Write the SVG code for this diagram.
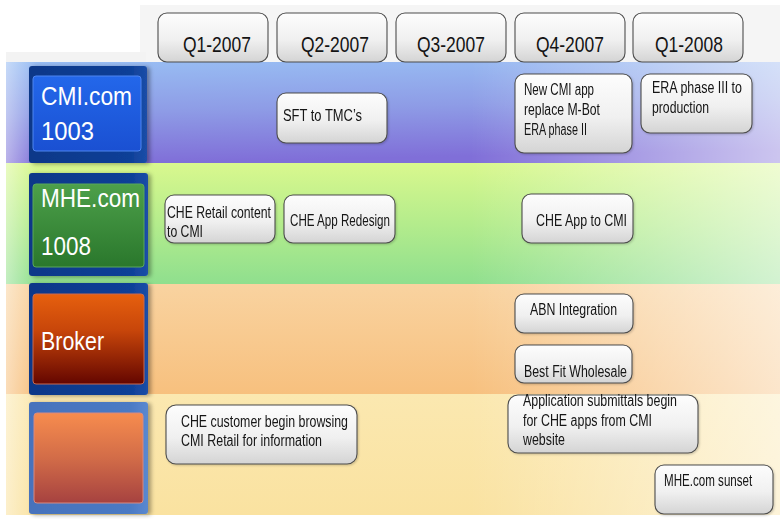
<svg xmlns="http://www.w3.org/2000/svg" width="780" height="519" viewBox="0 0 780 519">
  <defs>
    <style>
      .t { font-family: "Liberation Sans Narrow", "Liberation Sans", Arial, sans-serif; fill: #141414; }
      .item { font-size: 16px; }
      .hdr { font-size: 22px; }
      .lane-label { font-size: 26px; fill: #ffffff; }
      .box { fill: url(#boxFill); stroke: #4d4d4d; stroke-width: 1.1; }
      .outer { fill: url(#navy); filter: url(#shadow); }
    </style>
    <linearGradient id="boxFill" x1="0" y1="0" x2="0" y2="1">
      <stop offset="0" stop-color="#fdfdfd"/>
      <stop offset="0.55" stop-color="#f0f0f0"/>
      <stop offset="1" stop-color="#d4d4d4"/>
    </linearGradient>
    <linearGradient id="navy" x1="0" y1="0" x2="1" y2="0">
      <stop offset="0" stop-color="#0b3888"/>
      <stop offset="0.85" stop-color="#0e3f97"/>
      <stop offset="1" stop-color="#1b4ea8"/>
    </linearGradient>
    <linearGradient id="navyLight" x1="0" y1="0" x2="1" y2="0">
      <stop offset="0" stop-color="#4672bc"/>
      <stop offset="0.85" stop-color="#4b7ac4"/>
      <stop offset="1" stop-color="#5a88d0"/>
    </linearGradient>
    <filter id="shadow" x="-10%" y="-10%" width="125%" height="125%">
      <feDropShadow dx="3" dy="1" stdDeviation="2" flood-color="#000" flood-opacity="0.35"/>
    </filter>
    <filter id="soft" x="-10%" y="-10%" width="125%" height="130%">
      <feDropShadow dx="1" dy="1" stdDeviation="1" flood-color="#000" flood-opacity="0.2"/>
    </filter>

    <!-- lane backgrounds -->
    <linearGradient id="laneBlue" x1="0" y1="0" x2="0.15" y2="1">
      <stop offset="0" stop-color="#98bdf3"/>
      <stop offset="0.5" stop-color="#8e9ce6"/>
      <stop offset="1" stop-color="#806fd8"/>
    </linearGradient>
    <linearGradient id="laneGreen" x1="0" y1="0" x2="0" y2="1">
      <stop offset="0" stop-color="#d9f88e"/>
      <stop offset="0.5" stop-color="#b4ec8c"/>
      <stop offset="1" stop-color="#8fdf8e"/>
    </linearGradient>
    <linearGradient id="laneOrange" x1="0" y1="0" x2="0" y2="1">
      <stop offset="0" stop-color="#f9d3a0"/>
      <stop offset="1" stop-color="#f7c07e"/>
    </linearGradient>
    <linearGradient id="laneYellow" x1="0" y1="0" x2="0" y2="1">
      <stop offset="0" stop-color="#fbe8b0"/>
      <stop offset="1" stop-color="#fae2a0"/>
    </linearGradient>
    <linearGradient id="fadeRight" x1="0" y1="0" x2="1" y2="0">
      <stop offset="0" stop-color="#ffffff" stop-opacity="0.45"/>
      <stop offset="0.04" stop-color="#ffffff" stop-opacity="0"/>
      <stop offset="0.6" stop-color="#ffffff" stop-opacity="0"/>
      <stop offset="1" stop-color="#ffffff" stop-opacity="0.6"/>
    </linearGradient>

    <!-- lane label fills -->
    <linearGradient id="fillBlue" x1="0" y1="0" x2="0" y2="1">
      <stop offset="0" stop-color="#2367ea"/>
      <stop offset="1" stop-color="#1a50d2"/>
    </linearGradient>
    <linearGradient id="fillGreen" x1="0" y1="0" x2="0" y2="1">
      <stop offset="0" stop-color="#4da04a"/>
      <stop offset="1" stop-color="#2a772c"/>
    </linearGradient>
    <linearGradient id="fillRust" x1="0" y1="0" x2="0" y2="1">
      <stop offset="0" stop-color="#e6600e"/>
      <stop offset="0.4" stop-color="#c8460a"/>
      <stop offset="1" stop-color="#640600"/>
    </linearGradient>
    <linearGradient id="fillPeach" x1="0" y1="0" x2="0" y2="1">
      <stop offset="0" stop-color="#f78c4e"/>
      <stop offset="0.5" stop-color="#d26c48"/>
      <stop offset="1" stop-color="#a64240"/>
    </linearGradient>
  </defs>

  <rect width="780" height="519" fill="#ffffff"/>

  <!-- header strip -->
  <rect x="140" y="5" width="640" height="57" fill="#f5f5f5"/>
  <rect x="6" y="52" width="140" height="10" fill="#f3f3f3"/>

  <!-- swim lanes -->
  <g id="lanes">
    <rect x="6" y="62" width="774" height="101" fill="url(#laneBlue)"/>
    <rect x="6" y="62" width="774" height="101" fill="url(#fadeRight)"/>
    <rect x="6" y="163" width="774" height="121" fill="url(#laneGreen)"/>
    <rect x="6" y="163" width="774" height="121" fill="url(#fadeRight)"/>
    <rect x="6" y="284" width="774" height="110" fill="url(#laneOrange)"/>
    <rect x="6" y="284" width="774" height="110" fill="url(#fadeRight)"/>
    <rect x="6" y="394" width="774" height="121" fill="url(#laneYellow)"/>
    <rect x="6" y="394" width="774" height="121" fill="url(#fadeRight)"/>
  </g>

  <!-- quarter headers -->
  <g id="q1-2007">
    <rect class="box" x="158" y="13" width="110" height="49" rx="9"/>
    <text class="t hdr" x="183" y="52" textLength="68" lengthAdjust="spacingAndGlyphs">Q1-2007</text>
  </g>
  <g id="q2-2007">
    <rect class="box" x="277" y="13" width="110" height="49" rx="9"/>
    <text class="t hdr" x="301" y="52" textLength="68" lengthAdjust="spacingAndGlyphs">Q2-2007</text>
  </g>
  <g id="q3-2007">
    <rect class="box" x="396" y="13" width="110" height="49" rx="9"/>
    <text class="t hdr" x="417" y="52" textLength="68" lengthAdjust="spacingAndGlyphs">Q3-2007</text>
  </g>
  <g id="q4-2007">
    <rect class="box" x="515" y="13" width="110" height="49" rx="9"/>
    <text class="t hdr" x="536" y="52" textLength="68" lengthAdjust="spacingAndGlyphs">Q4-2007</text>
  </g>
  <g id="q1-2008">
    <rect class="box" x="633" y="13" width="110" height="49" rx="9"/>
    <text class="t hdr" x="655" y="52" textLength="68" lengthAdjust="spacingAndGlyphs">Q1-2008</text>
  </g>

  <!-- lane labels -->
  <g id="lane-cmi">
    <rect class="outer" x="29" y="66" width="118" height="97" rx="3"/>
    <rect x="33" y="76" width="108" height="75" rx="3" fill="url(#fillBlue)" stroke="#4f86f0" stroke-width="1"/>
    <text class="t lane-label" x="41" y="105" textLength="91" lengthAdjust="spacingAndGlyphs">CMI.com</text>
    <text class="t lane-label" x="41" y="140" textLength="53" lengthAdjust="spacingAndGlyphs">1003</text>
  </g>
  <g id="lane-mhe">
    <rect class="outer" x="29" y="173" width="119" height="103" rx="3"/>
    <rect x="33" y="184" width="111" height="83" rx="3" fill="url(#fillGreen)" stroke="#5aa85a" stroke-width="1"/>
    <text class="t lane-label" x="41" y="207" textLength="99" lengthAdjust="spacingAndGlyphs">MHE.com</text>
    <text class="t lane-label" x="41" y="255" textLength="50" lengthAdjust="spacingAndGlyphs">1008</text>
  </g>
  <g id="lane-broker">
    <rect class="outer" x="29" y="283" width="119" height="112" rx="3"/>
    <rect x="33" y="294" width="111" height="90" rx="3" fill="url(#fillRust)" stroke="#c86a50" stroke-width="1"/>
    <text class="t lane-label" x="41" y="350" textLength="63" lengthAdjust="spacingAndGlyphs">Broker</text>
  </g>
  <g id="lane-customer">
    <rect x="29" y="402" width="119" height="112" rx="3" fill="url(#navyLight)" filter="url(#shadow)"/>
    <rect x="34" y="413" width="109" height="90" rx="3" fill="url(#fillPeach)" stroke="#d88a80" stroke-width="1"/>
  </g>

  <!-- CMI.com lane items -->
  <g id="sft-to-tmcs" filter="url(#soft)">
    <rect class="box" x="277" y="93" width="110" height="50" rx="9"/>
    <text class="t item" x="283" y="121" textLength="79" lengthAdjust="spacingAndGlyphs">SFT to TMC’s</text>
  </g>
  <g id="new-cmi-app" filter="url(#soft)">
    <rect class="box" x="515" y="74" width="117" height="79" rx="9"/>
    <text class="t item" x="524" y="95" textLength="70" lengthAdjust="spacingAndGlyphs">New CMI app</text>
    <text class="t item" x="524" y="115" textLength="76" lengthAdjust="spacingAndGlyphs">replace M-Bot</text>
    <text class="t item" x="524" y="135" textLength="63" lengthAdjust="spacingAndGlyphs">ERA phase II</text>
  </g>
  <g id="era-phase-3" filter="url(#soft)">
    <rect class="box" x="641" y="74" width="111" height="59" rx="9"/>
    <text class="t item" x="652" y="93" textLength="90" lengthAdjust="spacingAndGlyphs">ERA phase III to</text>
    <text class="t item" x="652" y="113" textLength="57" lengthAdjust="spacingAndGlyphs">production</text>
  </g>

  <!-- MHE.com lane items -->
  <g id="che-retail-content" filter="url(#soft)">
    <rect class="box" x="165" y="195" width="110" height="48" rx="9"/>
    <text class="t item" x="167" y="218" textLength="104" lengthAdjust="spacingAndGlyphs">CHE Retail content</text>
    <text class="t item" x="167" y="237" textLength="36" lengthAdjust="spacingAndGlyphs">to CMI</text>
  </g>
  <g id="che-app-redesign" filter="url(#soft)">
    <rect class="box" x="284" y="195" width="111" height="48" rx="9"/>
    <text class="t item" x="290" y="226" textLength="100" lengthAdjust="spacingAndGlyphs">CHE App Redesign</text>
  </g>
  <g id="che-app-to-cmi" filter="url(#soft)">
    <rect class="box" x="522" y="194" width="111" height="49" rx="9"/>
    <text class="t item" x="536" y="226" textLength="91" lengthAdjust="spacingAndGlyphs">CHE App to CMI</text>
  </g>

  <!-- Broker lane items -->
  <g id="abn-integration" filter="url(#soft)">
    <rect class="box" x="515" y="294" width="118" height="39" rx="9"/>
    <text class="t item" x="530" y="315" textLength="87" lengthAdjust="spacingAndGlyphs">ABN Integration</text>
  </g>
  <g id="best-fit-wholesale" filter="url(#soft)">
    <rect class="box" x="515" y="345" width="117" height="38" rx="9"/>
    <text class="t item" x="524" y="377" textLength="103" lengthAdjust="spacingAndGlyphs">Best Fit Wholesale</text>
  </g>

  <!-- customer lane items -->
  <g id="che-customer-browsing" filter="url(#soft)">
    <rect class="box" x="166" y="405" width="191" height="59" rx="10"/>
    <text class="t item" x="181" y="427" textLength="167" lengthAdjust="spacingAndGlyphs">CHE customer begin browsing</text>
    <text class="t item" x="181" y="446" textLength="141" lengthAdjust="spacingAndGlyphs">CMI Retail for information</text>
  </g>
  <g id="application-submittals" filter="url(#soft)">
    <rect class="box" x="508" y="395" width="190" height="58" rx="10"/>
    <text class="t item" x="523" y="406" textLength="154" lengthAdjust="spacingAndGlyphs">Application submittals begin</text>
    <text class="t item" x="523" y="426" textLength="129" lengthAdjust="spacingAndGlyphs">for CHE apps from CMI</text>
    <text class="t item" x="523" y="445" textLength="42" lengthAdjust="spacingAndGlyphs">website</text>
  </g>
  <g id="mhe-sunset" filter="url(#soft)">
    <rect class="box" x="655" y="465" width="118" height="49" rx="9"/>
    <!-- narrowed with a transform so the run stays inside the box -->
    <text class="t item" transform="translate(664 486) scale(0.725 1)">MHE.com sunset</text>
  </g>
</svg>
